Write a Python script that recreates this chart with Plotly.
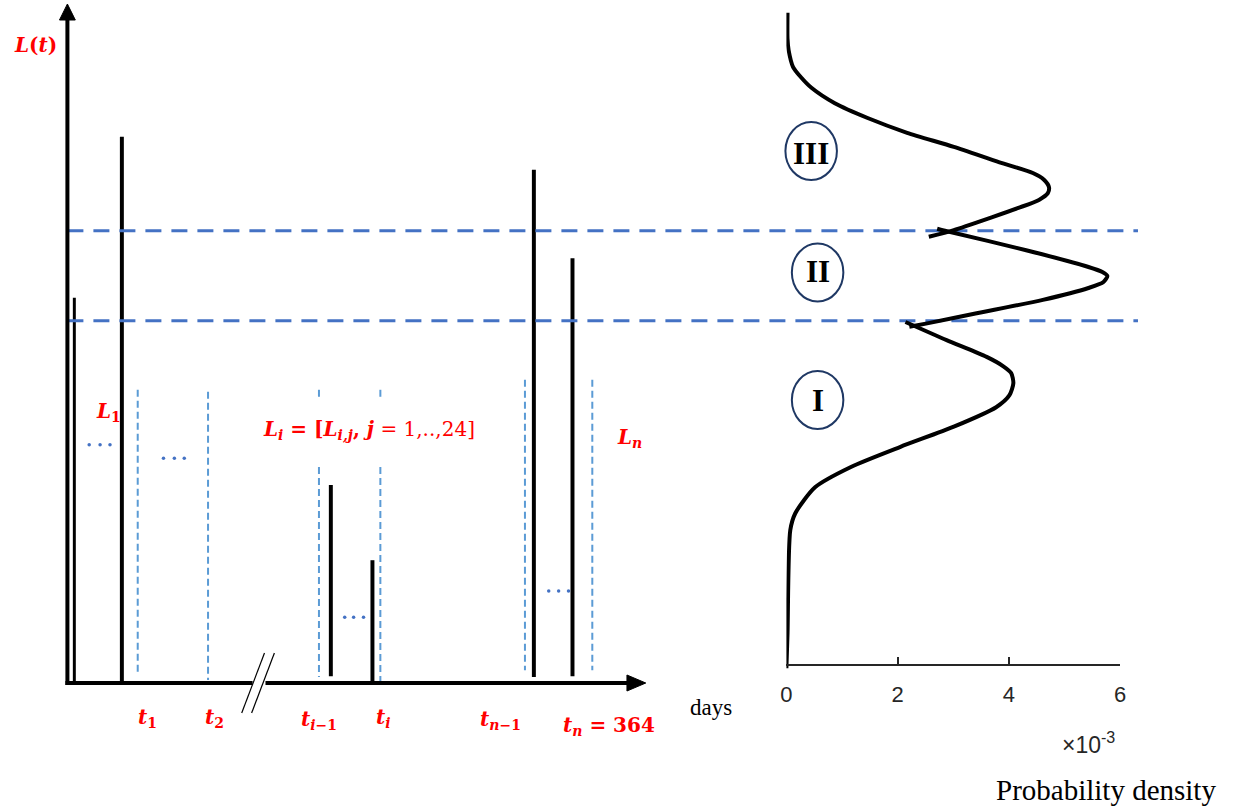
import plotly.graph_objects as go

W, H = 1246, 809

# ---------------- data (schematic units) ----------------
# left panel: time position (schematic, 0..1246) and load L(t)
spike_x = [69, 117, 328, 370, 533, 572]
spike_bottom = [0.0, 0.0, 1.0, 0.0, 0.9, 1.0]
spike_top = [57.4, 81.4, 29.5, 18.3, 76.5, 63.3]
spike_width = [3, 4, 4, 4, 4, 4]

window_x = [133, 204, 316, 378, 524, 592]
window_top = [43.7, 43.4, 43.7, 43.7, 45.2, 45.2]
window_bottom = [1.2, 0.45, 0.9, -0.3, 1.9, 1.9]
label_gap = [None, None, (42.2, 32.2), (42.2, 32.2), None, None]

dots_x = [[84, 95, 105], [159, 170, 180], [342, 351, 361], [548, 558, 568]]
dots_y = [35.5, 33.5, 9.8, 13.7]

thresholds = [67.4, 54.0]
threshold_span = [62, 1143]

# right panel: probability density (x 1e-3) vs load, three mixture parts
dens_III = [0.02, 0.02, 0.04, 0.12, 0.27, 0.45, 0.87, 1.46, 2.17, 3.01, 3.83, 4.43, 4.63, 4.72, 4.70, 4.54, 4.17, 3.69, 3.01, 2.56]
load_III = [99.9, 96.0, 94.3, 91.8, 90.2, 88.7, 86.4, 84.2, 82.0, 79.9, 77.6, 76.0, 75.0, 73.9, 73.0, 72.0, 70.8, 69.4, 67.5, 66.5]
dens_II = [2.71, 2.85, 4.31, 5.43, 5.68, 5.77, 5.70, 5.43, 4.61, 3.42, 2.53, 2.21]
load_II = [67.7, 67.4, 64.5, 62.0, 61.25, 60.66, 59.76, 58.87, 57.1, 55.1, 53.6, 53.1]
dens_I = [2.14, 2.88, 3.60, 3.90, 4.04, 4.08, 4.01, 3.77, 3.01, 2.05, 1.16, 0.52, 0.16, 0.07, 0.02, 0.0]
load_I = [53.8, 51.1, 48.6, 47.2, 46.2, 44.7, 42.9, 41.1, 38.2, 35.2, 32.2, 29.2, 25.3, 22.8, 7.4, 2.2]

dens_ticks = [0, 2, 4, 6]
dens_tick_text = ["0", "2", "4", "6"]

# ---------------- layout helpers ----------------
X0_PX = 683          # pixel row of L=0
PX_PER_UNIT = 6.71   # pixels per load unit
y_range = [(X0_PX - H) / PX_PER_UNIT, X0_PX / PX_PER_UNIT]


def px(x):
    return x / W


def py(y):
    return 1 - y / H


fig = go.Figure()

# load spikes
fig.add_trace(go.Bar(
    x=spike_x,
    y=[t - b for t, b in zip(spike_top, spike_bottom)],
    base=spike_bottom,
    width=spike_width,
    marker=dict(color="black", line=dict(width=0)),
    xaxis="x", yaxis="y", showlegend=False, hoverinfo="skip"))

# dashed daily windows
wx, wy = [], []
for x, t, b, g in zip(window_x, window_top, window_bottom, label_gap):
    if g is None:
        wx += [x, x, None]
        wy += [t, b, None]
    else:
        wx += [x, x, None, x, x, None]
        wy += [t, g[0], None, g[1], b, None]
fig.add_trace(go.Scatter(
    x=wx, y=wy, mode="lines",
    line=dict(color="#5B9BD5", width=2, dash="7px,4px"),
    xaxis="x", yaxis="y", showlegend=False, hoverinfo="skip"))

# ellipsis dots
for xs, yv in zip(dots_x, dots_y):
    fig.add_trace(go.Scatter(
        x=xs, y=[yv] * len(xs), mode="markers",
        marker=dict(color="#4472C4", size=3.5),
        xaxis="x", yaxis="y", showlegend=False, hoverinfo="skip"))

# thresholds
for th in thresholds:
    fig.add_trace(go.Scatter(
        x=threshold_span, y=[th, th], mode="lines",
        line=dict(color="#4472C4", width=3, dash="16px,10px"),
        xaxis="x", yaxis="y", showlegend=False, hoverinfo="skip"))

# density curve
for d, l in [(dens_III, load_III), (dens_II, load_II), (dens_I, load_I)]:
    fig.add_trace(go.Scatter(
        x=d, y=l, mode="lines",
        line=dict(color="black", width=4, shape="spline", smoothing=0.7),
        xaxis="x2", yaxis="y", showlegend=False, hoverinfo="skip"))

shapes = []
# L(t) axis with arrow
shapes.append(dict(type="line", xref="paper", yref="paper",
                   x0=px(62), x1=px(62), y0=py(685), y1=py(18),
                   line=dict(color="black", width=4)))
shapes.append(dict(type="path", xref="paper", yref="paper",
                   path=f"M {px(54)},{py(20)} L {px(70)},{py(20)} L {px(62)},{py(4)} Z",
                   fillcolor="black", line=dict(color="black", width=1)))
# days axis with break and arrow
for a, b in [(60, 249), (262, 630)]:
    shapes.append(dict(type="line", xref="paper", yref="paper",
                       x0=px(a), x1=px(b), y0=py(683), y1=py(683),
                       line=dict(color="black", width=4)))
shapes.append(dict(type="path", xref="paper", yref="paper",
                   path=f"M {px(627)},{py(675)} L {px(627)},{py(691)} L {px(646)},{py(683)} Z",
                   fillcolor="black", line=dict(color="black", width=1)))
for a in [238, 248]:
    shapes.append(dict(type="line", xref="paper", yref="paper",
                       x0=px(a), x1=px(a + 23), y0=py(713), y1=py(653),
                       line=dict(color="black", width=1.2)))
# circles for the regions
for cx, cy in [(813, 151), (819.5, 272.5), (819.5, 400)]:
    shapes.append(dict(type="circle", xref="paper", yref="paper",
                       x0=px(cx - 26), x1=px(cx + 26), y0=py(cy - 29), y1=py(cy + 29),
                       line=dict(color="#1F3864", width=2)))

RED = "#FF0000"
MATH = "DejaVu Serif"
SERIF = "Liberation Serif"
ann = []


def add_text(x, y, text, size=20, color=RED, family=MATH):
    ann.append(dict(xref="paper", yref="paper", x=px(x), y=py(y), text=text,
                    showarrow=False, xanchor="center", yanchor="middle",
                    font=dict(family=family, size=size, color=color)))


add_text(30, 45, "<b><i>L</i>(<i>t</i>)</b>", 20)
add_text(103, 412, "<b><i>L</i><sub>1</sub></b>", 20)
add_text(367, 430, "<b><i>L<sub>i</sub></i> = [<i>L<sub>i,j</sub></i>, <i>j</i></b> = 1,..,24]", 20)
add_text(630, 438, "<b><i>L<sub>n</sub></i></b>", 20)
add_text(143, 718, "<b><i>t</i><sub>1</sub></b>", 20)
add_text(211, 718, "<b><i>t</i><sub>2</sub></b>", 20)
add_text(316, 720, "<b><i>t<sub>i</sub></i><sub>−1</sub></b>", 20)
add_text(381, 718, "<b><i>t<sub>i</sub></i></b>", 20)
add_text(499, 720, "<b><i>t<sub>n</sub></i><sub>−1</sub></b>", 20)
add_text(609, 726, "<b><i>t<sub>n</sub></i> = 364</b>", 20)
add_text(712, 707, "days", 23, "black", SERIF)
add_text(1093, 743, "×10<sup>-3</sup>", 23, "#262626", "Liberation Sans")
add_text(1111, 790, "Probability density", 29, "black", SERIF)
add_text(813, 153, "<b>III</b>", 31, "black", SERIF)
add_text(820, 272, "<b>II</b>", 31, "black", SERIF)
add_text(820, 400, "<b>I</b>", 31, "black", SERIF)

fig.update_layout(
    width=W, height=H,
    margin=dict(l=0, r=0, t=0, b=0),
    paper_bgcolor="white", plot_bgcolor="rgba(0,0,0,0)",
    showlegend=False,
    shapes=shapes, annotations=ann,
    xaxis=dict(range=[0, W], domain=[0, 1], visible=False, fixedrange=True),
    yaxis=dict(range=y_range, domain=[0, 1], visible=False, fixedrange=True),
    xaxis2=dict(range=[0, 6], domain=[788 / W, 1125 / W], anchor="free",
                position=(H - 665) / H, showline=True, linecolor="#262626",
                linewidth=1.5, ticks="inside", ticklen=7, tickwidth=1.5,
                tickcolor="#262626", tickvals=dens_ticks, ticktext=dens_tick_text,
                tickfont=dict(family="Liberation Sans", size=22, color="#262626"),
                ticklabelstandoff=10, showgrid=False, zeroline=False, fixedrange=True),
)

fig.write_html("out.html", config={"displayModeBar": False},
               post_script="document.body.style.margin='0px';document.body.style.overflow='hidden';")
